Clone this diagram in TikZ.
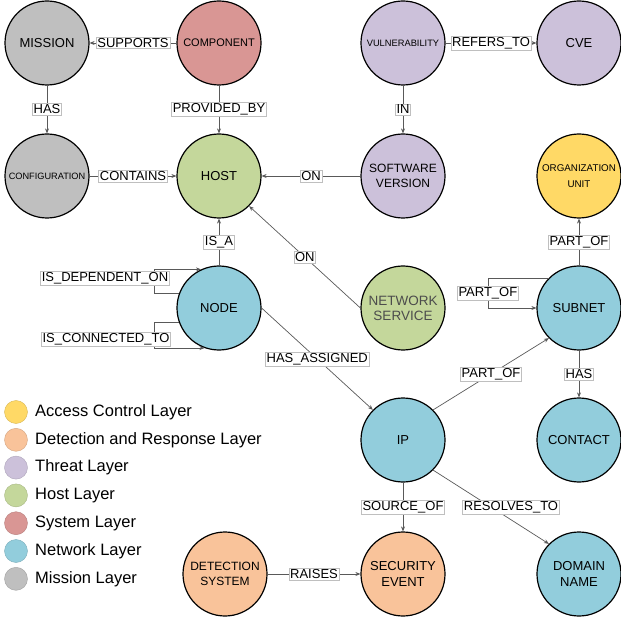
\documentclass[tikz,border=0pt]{standalone}
\usepackage{fontspec}
\setmainfont{Liberation Sans}
\usetikzlibrary{arrows.meta,calc}
\definecolor{cgray}{HTML}{BFBFBF}
\definecolor{cred}{HTML}{D99694}
\definecolor{cgreen}{HTML}{C4D79B}
\definecolor{cpurple}{HTML}{CCC1DA}
\definecolor{cyellow}{HTML}{FFD966}
\definecolor{cblue}{HTML}{92CDDC}
\definecolor{corange}{HTML}{F9C39A}
\tikzset{
  ent/.style={circle, draw=black, line width=1.2pt, minimum size=84pt, inner sep=0pt,
    align=center, text=black, font=\fontsize{13}{15.5}\selectfont},
  lbl/.style={draw=black!25, fill=white, line width=0.6pt, inner sep=1.2pt,
    font=\fontsize{13}{14}\selectfont, text=black},
  conn/.style={draw=black!65, line width=0.7pt, -{Stealth[length=5pt,width=4pt]}},
  legc/.style={circle, minimum size=23pt, inner sep=0pt, line width=0.4pt},
  legt/.style={anchor=west, inner sep=2pt, font=\fontsize{16.5}{18}\selectfont, text=black}
}
\begin{document}
\begin{tikzpicture}[x=1pt,y=-1pt]
\useasboundingbox (0,0) rectangle (621,620);
% entities
\node[ent, fill=cgray] (mission) at (47,43) {MISSION};
\node[ent, fill=cred, font=\fontsize{11}{13}\selectfont] (component) at (219,43) {COMPONENT};
\node[ent, fill=cgray, font=\fontsize{9.2}{11}\selectfont] (config) at (47,176) {CONFIGURATION};
\node[ent, fill=cgreen] (host) at (219,176) {HOST};
\node[ent, fill=cpurple, font=\fontsize{9.3}{11}\selectfont] (vuln) at (403,43) {VULNERABILITY};
\node[ent, fill=cpurple] (cve) at (579,43) {CVE};
\node[ent, fill=cpurple, font=\fontsize{12}{15.5}\selectfont] (sw) at (403,176) {SOFTWARE\\VERSION};
\node[ent, fill=cyellow, font=\fontsize{9.8}{16}\selectfont] (org) at (579,176) {ORGANIZATION\\UNIT};
\node[ent, fill=cblue] (nd) at (219,308) {NODE};
\node[ent, fill=cgreen, text=black!70, font=\fontsize{13.5}{15}\selectfont] (ns) at (403,308) {NETWORK\\SERVICE};
\node[ent, fill=cblue] (subnet) at (579,308) {SUBNET};
\node[ent, fill=cblue] (ip) at (403,440) {IP};
\node[ent, fill=cblue] (contact) at (579,440) {CONTACT};
\node[ent, fill=corange, font=\fontsize{12}{15.5}\selectfont] (ds) at (225,574) {DETECTION\\SYSTEM};
\node[ent, fill=corange] (se) at (403,574) {SECURITY\\EVENT};
\node[ent, fill=cblue] (dn) at (579,574) {DOMAIN\\NAME};
% connectors
\draw[conn] (component) -- node[lbl]{SUPPORTS} (mission);
\draw[conn] (mission) -- node[lbl]{HAS} (config);
\draw[conn] (component) -- node[lbl]{PROVIDED\_BY} (host);
\draw[conn] (config) -- node[lbl]{CONTAINS} (host);
\draw[conn] (vuln) -- node[lbl]{REFERS\_TO} (cve);
\draw[conn] (vuln) -- node[lbl]{IN} (sw);
\draw[conn] (sw) -- node[lbl]{ON} (host);
\draw[conn] (nd) -- node[lbl]{IS\_A} (host);
\draw[conn] (ns.west) -- node[lbl]{ON} (host.-45);
\draw[conn] (nd.160) -- ++(-25,0) |- node[lbl,pos=0.25,xshift=-49,yshift=3]{IS\_DEPENDENT\_ON} (nd.115);
\draw[conn] (nd.200) -- ++(-25,0) |- node[lbl,pos=0.25,xshift=-48,yshift=-4]{IS\_CONNECTED\_TO} (nd.250);
\draw[conn] (nd.east) -- node[lbl]{HAS\_ASSIGNED} (ip.135);
\draw[conn] (ip.45) -- node[lbl]{PART\_OF} (subnet.225);
\draw[conn] (subnet.135) -- ++(-61,0) |- node[lbl,pos=0.25]{PART\_OF} (subnet.west);
\draw[conn] (subnet) -- node[lbl]{PART\_OF} (org);
\draw[conn] (subnet) -- node[lbl]{HAS} (contact);
\draw[conn] (ip) -- node[lbl]{SOURCE\_OF} (se);
\draw[conn] (ip.-45) -- node[lbl,xshift=20]{RESOLVES\_TO} (dn.135);
\draw[conn] (ds) -- node[lbl]{RAISES} (se);
% legend
\foreach \c/\t [count=\i] in {cyellow/Access Control Layer, corange/Detection and Response Layer, cpurple/Threat Layer, cgreen/Host Layer, cred/System Layer, cblue/Network Layer, cgray/Mission Layer}{
  \node[legc, fill=\c, draw=\c!85!black] (lc\i) at (16,{384.2+27.8*\i}) {};
  \node[legt] (lt\i) at (33,{384.2+27.8*\i}) {\t};
}
\end{tikzpicture}
\end{document}
